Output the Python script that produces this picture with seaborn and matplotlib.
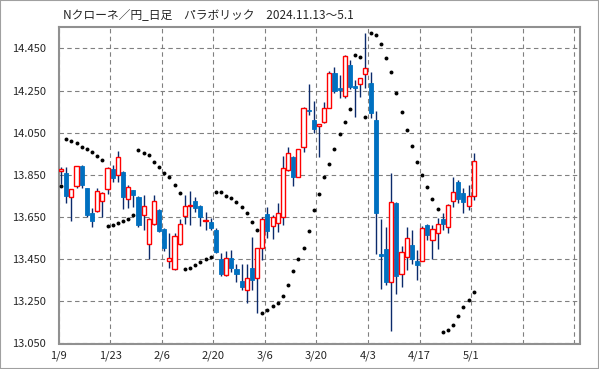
import numpy as np
import pandas as pd
import matplotlib
matplotlib.use("Agg")
import matplotlib.pyplot as plt
import seaborn as sns
from matplotlib.patches import Rectangle

# NOK/JPY daily candles, 2025-01-09 .. 2025-05-01
opens = [13.867, 13.858, 13.744, 13.799, 13.892, 13.788, 13.668, 13.679, 13.725, 13.782,
         13.879, 13.848, 13.864, 13.736, 13.777, 13.744, 13.659, 13.521, 13.616, 13.684,
         13.592, 13.440, 13.403, 13.521, 13.654, 13.700, 13.726, 13.703, 13.633, 13.627,
         13.589, 13.451, 13.374, 13.455, 13.404, 13.347, 13.303, 13.407, 13.360, 13.505,
         13.663, 13.609, 13.624, 13.652, 13.873, 13.933, 13.842, 13.981, 14.157, 14.109,
         14.083, 14.102, 14.169, 14.332, 14.263, 14.225, 14.371, 14.271, 14.279, 14.327,
         14.284, 14.110, 13.474, 13.499, 13.344, 13.718, 13.379, 13.462, 13.518, 13.443,
         13.443, 13.613, 13.542, 13.573, 13.640, 13.605, 13.726, 13.818, 13.763, 13.703,
         13.750]
highs = [13.886, 13.886, 13.785, 13.893, 13.895, 13.790, 13.695, 13.786, 13.770, 13.885,
         13.898, 13.965, 13.870, 13.802, 13.780, 13.750, 13.755, 13.645, 13.755, 13.690,
         13.600, 13.576, 13.575, 13.641, 13.755, 13.774, 13.747, 13.705, 13.673, 13.645,
         13.600, 13.478, 13.489, 13.494, 13.426, 13.426, 13.426, 13.557, 13.505, 13.652,
         13.697, 13.660, 13.715, 13.940, 13.984, 13.940, 13.975, 14.170, 14.281, 14.200,
         14.090, 14.194, 14.342, 14.360, 14.323, 14.417, 14.395, 14.300, 14.310, 14.521,
         14.339, 14.153, 13.641, 13.605, 13.858, 13.720, 13.513, 13.605, 13.589, 13.494,
         13.608, 13.615, 13.613, 13.644, 13.668, 13.710, 13.839, 13.826, 13.787, 13.802,
         13.952]
lows = [13.805, 13.718, 13.633, 13.789, 13.790, 13.650, 13.605, 13.673, 13.649, 13.758,
        13.815, 13.818, 13.687, 13.695, 13.697, 13.605, 13.589, 13.450, 13.610, 13.580,
        13.489, 13.407, 13.400, 13.515, 13.616, 13.613, 13.676, 13.608, 13.589, 13.589,
        13.480, 13.368, 13.370, 13.387, 13.344, 13.305, 13.242, 13.305, 13.197, 13.447,
        13.550, 13.546, 13.581, 13.613, 13.870, 13.799, 13.840, 13.960, 14.134, 14.047,
        13.936, 14.097, 14.165, 14.237, 14.213, 14.216, 14.257, 14.123, 14.221, 14.260,
        14.121, 13.474, 13.308, 13.328, 13.107, 13.284, 13.320, 13.399, 13.426, 13.349,
        13.440, 13.542, 13.450, 13.497, 13.589, 13.576, 13.699, 13.715, 13.671, 13.684,
        13.731]
closes = [13.878, 13.751, 13.782, 13.891, 13.800, 13.660, 13.633, 13.772, 13.763, 13.881,
          13.837, 13.933, 13.747, 13.791, 13.753, 13.614, 13.701, 13.640, 13.725, 13.586,
          13.505, 13.456, 13.562, 13.616, 13.701, 13.705, 13.695, 13.652, 13.637, 13.600,
          13.486, 13.380, 13.455, 13.407, 13.379, 13.320, 13.360, 13.349, 13.502, 13.640,
          13.586, 13.652, 13.671, 13.881, 13.952, 13.842, 13.973, 14.166, 14.152, 14.069,
          14.090, 14.166, 14.332, 14.249, 14.254, 14.415, 14.268, 14.260, 14.308, 14.355,
          14.145, 13.668, 13.467, 13.344, 13.723, 13.372, 13.483, 13.550, 13.451, 13.423,
          13.597, 13.565, 13.592, 13.616, 13.617, 13.707, 13.770, 13.734, 13.723, 13.751,
          13.917]
# parabolic SAR
sar = [13.795, 14.019, 14.012, 14.000, 13.984, 13.973, 13.957, 13.938, 13.921, 13.606,
       13.611, 13.623, 13.630, 13.642, 13.659, 13.966, 13.955, 13.943, 13.913, 13.886,
       13.860, 13.839, 13.802, 13.763, 13.403, 13.407, 13.422, 13.437, 13.450, 13.462,
       13.770, 13.767, 13.749, 13.739, 13.720, 13.697, 13.668, 13.625, 13.589, 13.197,
       13.207, 13.226, 13.244, 13.275, 13.327, 13.395, 13.450, 13.502, 13.582, 13.682,
       13.761, 13.839, 13.900, 13.971, 14.042, 14.099, 14.161, 14.418, 14.407, 14.123,
       14.521, 14.513, 14.470, 14.403, 14.336, 14.237, 14.147, 14.061, 13.987, 13.913,
       13.848, 13.791, 13.734, 13.687, 13.106, 13.114, 13.139, 13.180, 13.221, 13.256,
       13.294]
date_labels = ["1/9", "1/23", "2/6", "2/20", "3/6", "3/20", "4/3", "4/17", "5/1"]
title = "Nクローネ／円_日足　パラボリック　2024.11.13～5.1"

df = pd.DataFrame({"open": opens, "high": highs, "low": lows, "close": closes, "sar": sar})
df["x"] = np.arange(len(df)) + 0.5
up = df["close"] >= df["open"]

sns.set_style("white")
plt.rcParams["font.family"] = ["Noto Sans CJK JP", "DejaVu Sans"]

W, H = 599, 369
fig = plt.figure(figsize=(W / 100, H / 100), dpi=100)
ax = fig.add_axes([58.5 / W, 1 - 343.5 / H, (580 - 58.5) / W, (343.5 - 27.3) / H])

# wicks
ax.vlines(df["x"], df["low"], df["high"], color="#0B2A6B", lw=1, zorder=2)
# down candles: filled blue
dn = df[~up]
ax.bar(dn["x"], np.maximum(dn["open"] - dn["close"], 0.006), bottom=dn["close"],
       width=0.8, facecolor="#0070C0", edgecolor="#0070C0", lw=0.6, zorder=3)
# up candles: hollow red
u = df[up]
ax.bar(u["x"], np.maximum(u["close"] - u["open"], 0.004), bottom=u["open"],
       width=0.8, facecolor="white", edgecolor="#FF0000", lw=1, zorder=3)

# parabolic SAR dots
sns.scatterplot(x=df["x"], y=df["sar"], color="black", marker="o", s=8,
                linewidth=0, ax=ax, zorder=4)

ax.set_xlim(0, 101.1)
ax.set_ylim(13.05, 14.55)
ax.set_xticks(range(0, 101, 10))
ax.set_xticklabels(date_labels + ["", ""])
yt = np.arange(13.05, 14.46, 0.2)
ax.set_yticks(yt)
ax.set_yticklabels([f"{v:.3f}" for v in yt])
ax.set_xlabel("")
ax.set_ylabel("")

ax.grid(True, color="#808080", linestyle=(0, (4, 3)), lw=0.8)
ax.set_axisbelow(True)
for s in ax.spines.values():
    s.set_color("#909090")
    s.set_linewidth(1.5)
ax.tick_params(axis="y", length=7, color="#808080", pad=2, labelsize=8)
ax.tick_params(axis="x", length=0, pad=5, labelsize=8)

fig.text(63 / W, 1 - 15 / H, title, fontsize=8.5, ha="left", va="center")
fig.add_artist(Rectangle((0, 0), 1, 1, transform=fig.transFigure, fill=False,
                         edgecolor="#A0A0A0", lw=1.5))

fig.savefig("out.png", dpi=100)
